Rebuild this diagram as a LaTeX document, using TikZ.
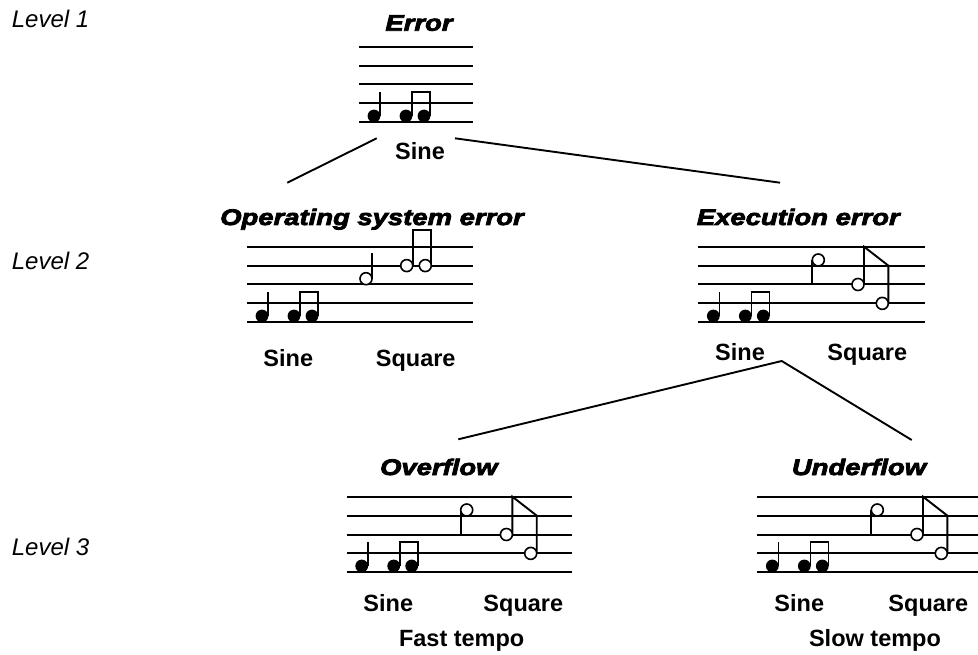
\documentclass[tikz,border=0pt]{standalone}
\usepackage{fontspec}
\setmainfont{Liberation Sans}
\newfontfamily\titlefam{Liberation Sans}[BoldItalicFeatures={FakeBold=3.5,FakeStretch=1.22}]
\tikzset{
  staffline/.style={line width=2pt},
  stem/.style={line width=1.9pt},
  openhead/.style={line width=1.6pt, fill=white},
  conn/.style={line width=1.9pt},
  titletxt/.style={anchor=base, inner sep=0pt, font=\titlefam\fontsize{22.5}{26}\selectfont\bfseries\itshape},
  lbl/.style={anchor=base, inner sep=0pt, font=\fontsize{23.5}{27}\selectfont\bfseries},
  lvl/.style={anchor=base west, inner sep=0pt, font=\fontsize{24}{28}\selectfont\itshape},
}
\newcommand\staffLines[1]{\foreach \yy in {0,18.9,37.8,56.7,75.6}{\draw[staffline] (0,\yy) -- (#1,\yy);}}
\newcommand\sineNotes{%
  \fill (15,69.3) circle (6.4pt) (47,69.3) circle (6.4pt) (65,69.3) circle (6.4pt);
  \draw[stem] (21.2,69.3) -- (21.2,45);
  \draw[stem] (53.2,69.3) -- (53.2,45) -- (71.2,45) -- (71.2,69.3);
}
\newcommand\sqA{%
  \draw[stem] (114,13.3) -- (114,37.8);
  \draw[stem] (165.7,37.8) -- (165.7,0) -- (190,18.9) -- (190,56.7);
  \draw[openhead] (120,13.3) circle (6pt) (159.7,37.8) circle (6pt) (184,56.7) circle (6pt);
}
\newcommand\sqB{%
  \draw[stem] (125,32) -- (125,6.6);
  \draw[stem] (165.7,18.9) -- (165.7,-16.7) -- (184.3,-16.7) -- (184.3,18.9);
  \draw[openhead] (119,32) circle (6pt) (159.7,18.9) circle (6pt) (178.3,18.9) circle (6pt);
}
\begin{document}
\begin{tikzpicture}[x=1pt,y=-1pt]
\fill[white] (0,0) rectangle (978,655);
\useasboundingbox (0,0) rectangle (978,655);
\begin{scope}
\clip (0,0) rectangle (978,655);

% level labels
\node[lvl] (lv1) at (11.7,27.3) {Level 1};
\node[lvl] (lv2) at (11.7,270) {Level 2};
\node[lvl] (lv3) at (11.7,555) {Level 3};

% Level 1: Error
\node[titletxt] (t-err) at (419,30.7) {Error};
\begin{scope}[shift={(359,46.7)}]
  \staffLines{114}
  \sineNotes
\end{scope}
\node[lbl] (err-sine) at (420,159.3) {Sine};

% Level 2: Operating system error
\node[titletxt] (t-os) at (372,225) {Operating system error};
\begin{scope}[shift={(247,246.7)}]
  \staffLines{226}
  \sineNotes
  \sqB
\end{scope}
\node[lbl] (os-sine) at (288.3,366.5) {Sine};
\node[lbl] (os-sq) at (415.7,366.5) {Square};

% Level 2: Execution error
\node[titletxt] (t-ex) at (798.3,225) {Execution error};
\begin{scope}[shift={(698.3,246.7)}]
  \staffLines{226.7}
  \sineNotes
  \sqA
\end{scope}
\node[lbl] (ex-sine) at (740,360.7) {Sine};
\node[lbl] (ex-sq) at (867.3,360.7) {Square};

% Level 3: Overflow
\node[titletxt] (t-ov) at (438.8,475) {Overflow};
\begin{scope}[shift={(346.7,496.7)}]
  \staffLines{225}
  \sineNotes
  \sqA
\end{scope}
\node[lbl] (ov-sine) at (388.3,611) {Sine};
\node[lbl] (ov-sq) at (523.3,611) {Square};
\node[lbl] (ov-tempo) at (461.7,646) {Fast tempo};

% Level 3: Underflow
\node[titletxt] (t-un) at (859,475) {Underflow};
\begin{scope}[shift={(757.3,496.7)}]
  \staffLines{226}
  \sineNotes
  \sqA
\end{scope}
\node[lbl] (un-sine) at (799.3,611) {Sine};
\node[lbl] (un-sq) at (928.3,611) {Square};
\node[lbl] (un-tempo) at (875,646) {Slow tempo};

% connector end points
\coordinate (err-l) at (376.7,138.3);
\coordinate (err-r) at (455,138.3);
\coordinate (os-top) at (287.3,182.7);
\coordinate (ex-top) at (780,182.7);
\coordinate (ex-bot) at (781.7,361);
\coordinate (ov-top) at (458.3,439.3);
\coordinate (un-top) at (911.7,440);

\draw[conn] (err-l) -- (os-top);
\draw[conn] (err-r) -- (ex-top);
\draw[conn] (ov-top) -- (ex-bot) -- (un-top);
\end{scope}
\end{tikzpicture}
\end{document}
